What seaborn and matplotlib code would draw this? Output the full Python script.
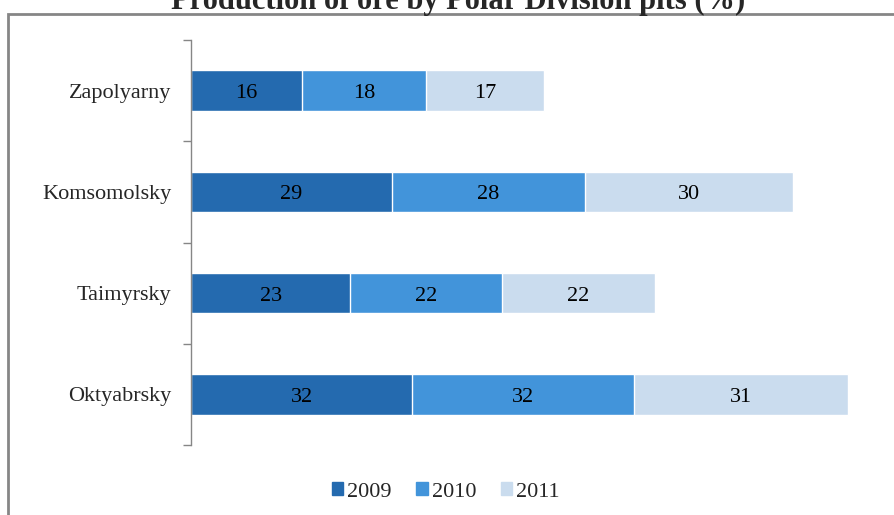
import matplotlib
matplotlib.use("Agg")
import matplotlib.pyplot as plt
import matplotlib.patches as mpatches
import numpy as np
import pandas as pd
import seaborn as sns

pits = ["Zapolyarny", "Komsomolsky", "Taimyrsky", "Oktyabrsky"]
years = ["2009", "2010", "2011"]
v2009 = [16, 29, 23, 32]
v2010 = [18, 28, 22, 32]
v2011 = [17, 30, 22, 31]

YEAR_COLORS = {"2009": "#246AAF", "2010": "#4294DA", "2011": "#CADCEE"}

sns.set_style("white")
plt.rcParams["font.family"] = ["Liberation Serif", "DejaVu Serif"]

df = pd.DataFrame({"pit": pits, "2009": v2009, "2010": v2010, "2011": v2011})
cum = df[years].cumsum(axis=1)

fig = plt.figure(figsize=(8.94, 5.15), dpi=100)
ax = fig.add_axes([191 / 894, 1 - 445 / 515, 692 / 894, 405 / 515])

# stacked bars: draw the running totals from back to front
for year in reversed(years):
    sns.barplot(
        x=cum[year],
        y=df["pit"],
        orient="h",
        color=YEAR_COLORS[year],
        width=0.4,
        saturation=1,
        ax=ax,
    )

for i, row in df.iterrows():
    left = 0
    for year in years:
        val = row[year]
        ax.text(left + val / 2, i + 0.03, f"{val}", ha="center", va="center",
                fontsize=16, color="black")
        left += val

ax.set_xlim(0, 100)
ax.set_ylim(3.5, -0.5)
ax.set_xlabel("")
ax.set_ylabel("")
ax.set_xticks([])
ax.set_yticks(range(len(pits)))
ax.set_yticklabels(pits, fontsize=16)
ax.set_yticks(np.arange(-0.5, len(pits), 1), minor=True)
ax.tick_params(axis="y", which="major", length=0, pad=14)
ax.tick_params(axis="y", which="minor", length=6, width=1, color="#868686", left=True)
for side in ["top", "right", "bottom"]:
    ax.spines[side].set_visible(False)
ax.spines["left"].set_color("#868686")
ax.spines["left"].set_linewidth(1)

handles = [mpatches.Patch(color=YEAR_COLORS[y], label=y) for y in years]
fig.legend(
    handles=handles,
    loc="center",
    bbox_to_anchor=(446 / 894, 1 - 492 / 515),
    ncol=3,
    frameon=False,
    fontsize=16,
    handlelength=0.5,
    handleheight=0.5,
    handletextpad=0.2,
    columnspacing=1.1,
)

# title is partly clipped at the top edge, as in the source image
fig.text(0.512, 1 - 9 / 515, "Production of ore by Polar Division pits (%)",
         ha="center", va="baseline", fontsize=22, fontweight="bold")

fig.patches.append(mpatches.Rectangle(
    (8 / 894, -0.05), 1.0, 1 - 14 / 515 + 0.05,
    transform=fig.transFigure, fill=False, edgecolor="#868686", linewidth=2,
))

fig.savefig("out.png", dpi=100)
